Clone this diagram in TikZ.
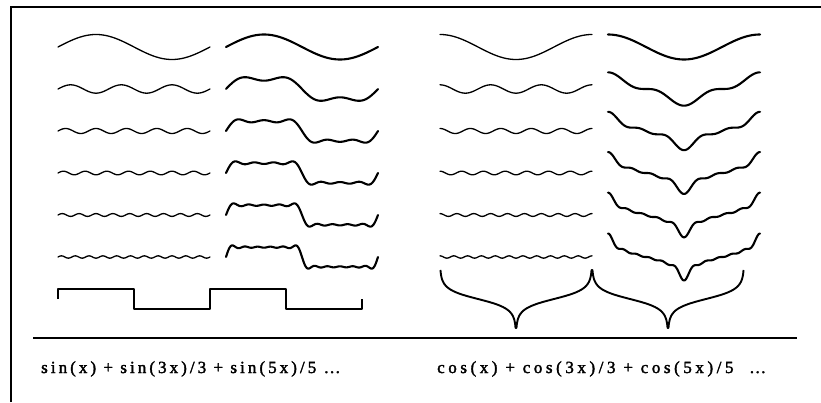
\documentclass[tikz,border=0pt]{standalone}
\usepackage{fontspec}
\newfontfamily\sumfont[LetterSpace=18,FakeBold=2]{Liberation Serif}
\newfontfamily\cosfont[LetterSpace=21,FakeBold=2]{Liberation Serif}

\begin{document}
\begin{tikzpicture}[
    x=1pt, y=1pt,
    term/.style={line width=1.3pt, line join=round, line cap=round},
    partsum/.style={line width=2.1pt, line join=round, line cap=round},
    limitcurve/.style={line width=1.9pt, line join=round},
    divider/.style={line width=1.4pt},
    formula/.style={anchor=base west, inner sep=0pt, font=\sumfont\fontsize{17}{19}\selectfont},
    declare function={
      sqa(\t)=sin(\t);
      sqb(\t)=sqa(\t)+sin(3*\t)/3;
      sqc(\t)=sqb(\t)+sin(5*\t)/5;
      sqd(\t)=sqc(\t)+sin(7*\t)/7;
      sqe(\t)=sqd(\t)+sin(9*\t)/9;
      sqf(\t)=sqe(\t)+sin(11*\t)/11;
      csa(\t)=cos(\t);
      csb(\t)=csa(\t)+cos(3*\t)/3;
      csc(\t)=csb(\t)+cos(5*\t)/5;
      csd(\t)=csc(\t)+cos(7*\t)/7;
      cse(\t)=csd(\t)+cos(9*\t)/9;
      csf(\t)=cse(\t)+cos(11*\t)/11;
      lcot(\t)=0.5*ln(abs(cot(\t/2)));
    }
]
\useasboundingbox (0,0) rectangle (821,402);

% frame and divider
\draw[line width=1.8pt] (11,0) -- (11,395) -- (821,395);
\draw[divider] (33,64) -- (797,64);

% terms and partial sums, one row per harmonic
\foreach \n/\fs/\fc in {1/sqa/csa,2/sqb/csb,3/sqc/csc,4/sqd/csd,5/sqe/cse,6/sqf/csf} {
  \pgfmathsetmacro\yc{355-42*(\n-1)}
  \pgfmathsetmacro\hk{2*\n-1}
  \draw[term] plot[domain=0:360, samples=241] ({58+\x/360*152}, {\yc+12.5*sin(\hk*\x)/\hk});
  \draw[partsum] plot[domain=0:360, samples=241] ({226+\x/360*152}, {\yc+12.5*\fs(\x)});
  \draw[term] plot[domain=0:360, samples=241] ({440+\x/360*152}, {\yc+12.5*cos(\hk*\x)/\hk});
  \draw[partsum] plot[domain=0:360, samples=241] ({608+\x/360*152}, {\yc+12.5*\fc(\x)});
}

% limits
\draw[limitcurve] (58,103) -- (58,113) -- (134,113) -- (134,93) -- (210,93) -- (210,113)
  -- (286,113) -- (286,93) -- (362,93) -- (362,103);
\draw[limitcurve]
  plot[domain=1.1:178.9, samples=400] ({440+\x/360*152}, {103+12.5*lcot(\x)})
  -- plot[domain=181.1:358.9, samples=400] ({440+\x/360*152}, {103+12.5*lcot(\x)})
  -- plot[domain=361.1:538.9, samples=400] ({440+\x/360*152}, {103+12.5*lcot(\x)})
  -- plot[domain=541.1:718.9, samples=400] ({440+\x/360*152}, {103+12.5*lcot(\x)});

% series
\node[formula] (sinsum) at (41,29) {sin(x) + sin(3x)/3 + sin(5x)/5 …};
\node[formula, font=\cosfont\fontsize{17}{19}\selectfont] (cossum) at (437,29)
  {cos(x) + cos(3x)/3 + cos(5x)/5 \ …};

\end{tikzpicture}
\end{document}
